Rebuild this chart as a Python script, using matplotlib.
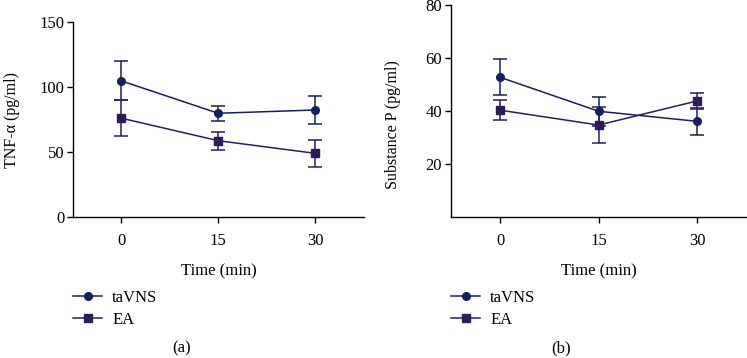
import matplotlib
matplotlib.use("Agg")
import matplotlib.pyplot as plt

# values (mean +/- error)
time_min = [0, 15, 30]
time_ticks = [0, 15, 30]
group_names = ["taVNS", "EA"]

tnf_tavns = [104.7, 79.8, 82.3]
tnf_tavns_err = [15.0, 5.6, 10.7]
tnf_ea = [76.0, 58.7, 49.0]
tnf_ea_err = [14.0, 6.9, 10.5]

sp_tavns = [52.7, 39.9, 36.1]
sp_tavns_err = [6.8, 5.4, 5.0]
sp_ea = [40.3, 34.7, 43.8]
sp_ea_err = [3.7, 6.9, 3.0]

tnf_yticks = [0, 50, 100, 150]
sp_yticks = [20, 40, 60, 80]

COLOR_TAVNS = "#16205e"
COLOR_EA = "#2e1b5c"

plt.rcParams["font.family"] = ["Liberation Serif", "DejaVu Serif"]
plt.rcParams["font.size"] = 12

W, H = 747, 358
fig = plt.figure(figsize=(W / 100, H / 100), dpi=100)


def fig_rect(x0, y_top, x1, y_bot):
    return [x0 / W, 1 - y_bot / H, (x1 - x0) / W, (y_bot - y_top) / H]


def draw_panel(ax, tavns, tavns_err, ea, ea_err, ylim, yticks, ylabel):
    ax.errorbar(time_min, tavns, yerr=tavns_err, color=COLOR_TAVNS, marker="o",
                markersize=5.5, linewidth=1.1, elinewidth=1.1, capsize=5.2,
                capthick=1.1, label=group_names[0])
    ax.errorbar(time_min, ea, yerr=ea_err, color=COLOR_EA, marker="s",
                markersize=5.5, linewidth=1.1, elinewidth=1.1, capsize=5.2,
                capthick=1.1, label=group_names[1])
    ax.set_xlim(-7.5, 37.6)
    ax.set_ylim(*ylim)
    ax.set_xticks(time_ticks)
    ax.set_yticks(yticks)
    ax.set_xlabel("Time (min)")
    ax.set_ylabel(ylabel, fontsize=11.5)
    for side in ("top", "right"):
        ax.spines[side].set_visible(False)
    for side in ("left", "bottom"):
        ax.spines[side].set_linewidth(1.0)
    ax.tick_params(axis="x", direction="out", length=4.3, width=1.0, pad=7.5)
    ax.tick_params(axis="y", direction="out", length=4.3, width=1.0, pad=2)


ax_a = fig.add_axes(fig_rect(73, 22, 364, 217))
draw_panel(ax_a, tnf_tavns, tnf_tavns_err, tnf_ea, tnf_ea_err,
           (0, 150), tnf_yticks, "TNF-\u03b1 (pg/ml)")
ax_a.yaxis.set_label_coords((20 - 73) / 291, 0.5)
ax_a.xaxis.set_label_coords(0.5, -(263 - 217) / 195)

ax_b = fig.add_axes(fig_rect(451, 5, 747, 217))
draw_panel(ax_b, sp_tavns, sp_tavns_err, sp_ea, sp_ea_err,
           (0, 80), sp_yticks, "Substance P (pg/ml)")
ax_b.yaxis.set_label_coords((401 - 451) / 296, (217 - 125) / 212)
ax_b.xaxis.set_label_coords(0.5, -(263 - 217) / 212)

for ax, x_left in ((ax_a, 73), (ax_b, 451)):
    handles, labels = ax.get_legend_handles_labels()
    handles = [h[0] for h in handles]
    ax.legend(handles, labels, loc="upper left",
              bbox_to_anchor=(x_left / W, 1 - 290 / H),
              bbox_transform=fig.transFigure, frameon=False,
              borderpad=0, borderaxespad=0, handlelength=1.75,
              handletextpad=0.6, labelspacing=0.35)

fig.text(182 / W, 1 - 348 / H, "(a)", ha="center", va="center")
fig.text(561 / W, 1 - 348 / H, "(b)", ha="center", va="center")

fig.savefig("out.png", dpi=100, facecolor="white")
